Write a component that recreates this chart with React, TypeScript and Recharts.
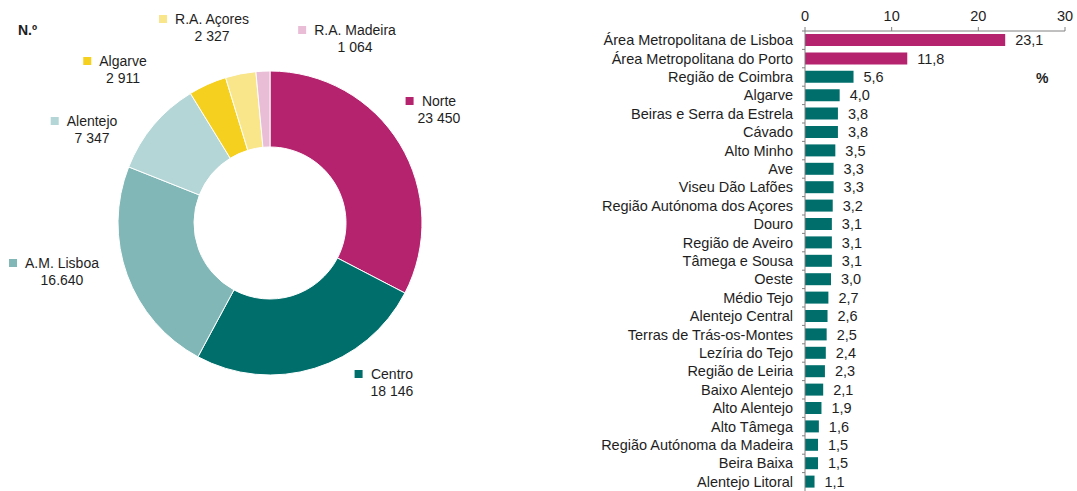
import { PieChart, Pie, Cell, BarChart, Bar, XAxis, YAxis, LabelList } from "recharts";

const regions = ["Norte", "Centro", "A.M. Lisboa", "Alentejo", "Algarve", "R.A. Açores", "R.A. Madeira"];
const regionValues = [23450, 18146, 16640, 7347, 2911, 2327, 1064];
const regionLabels = ["23 450", "18 146", "16.640", "7 347", "2 911", "2 327", "1 064"];
const regionColors = ["#b5236e", "#006f6c", "#81b7b7", "#b4d6d6", "#f5d01e", "#f9e58a", "#e9bdd5"];

const subregions = [
  "Área Metropolitana de Lisboa",
  "Área Metropolitana do Porto",
  "Região de Coimbra",
  "Algarve",
  "Beiras e Serra da Estrela",
  "Cávado",
  "Alto Minho",
  "Ave",
  "Viseu Dão Lafões",
  "Região Autónoma dos Açores",
  "Douro",
  "Região de Aveiro",
  "Tâmega e Sousa",
  "Oeste",
  "Médio Tejo",
  "Alentejo Central",
  "Terras de Trás-os-Montes",
  "Lezíria do Tejo",
  "Região de Leiria",
  "Baixo Alentejo",
  "Alto Alentejo",
  "Alto Tâmega",
  "Região Autónoma da Madeira",
  "Beira Baixa",
  "Alentejo Litoral",
];
const subregionShares = [23.1, 11.8, 5.6, 4.0, 3.8, 3.8, 3.5, 3.3, 3.3, 3.2, 3.1, 3.1, 3.1, 3.0, 2.7, 2.6, 2.5, 2.4, 2.3, 2.1, 1.9, 1.6, 1.5, 1.5, 1.1];
const highlighted = ["Área Metropolitana de Lisboa", "Área Metropolitana do Porto"];
const xTicks = [0, 10, 20, 30];

// centre of the name line for each donut label
const labelPos = [
  { x: 439, y: 101 },
  { x: 392, y: 374 },
  { x: 62, y: 263 },
  { x: 92, y: 121 },
  { x: 123, y: 61 },
  { x: 212, y: 19 },
  { x: 355, y: 30 },
];

const FONT = "'Liberation Sans', Arial, sans-serif";
const TEXT = "#1e1e1e";
const AXIS = "#808080";

const pieData = regions.map((name, i) => ({ name, value: regionValues[i] }));
const barData = subregions.map((name, i) => ({ name, value: subregionShares[i] }));

const fmt = (v: number) => v.toFixed(1).replace(".", ",");

function YTick(props: any) {
  const { x, y, payload } = props;
  const half = payload && payload.offset ? payload.offset : 9.2;
  const ax = x + 12;
  return (
    <g>
      <line x1={ax - 3} x2={ax} y1={y - half} y2={y - half} stroke={AXIS} />
      <text x={x} y={y} dy={5} textAnchor="end" fill={TEXT} fontSize={14.5} fontFamily={FONT}>
        {payload.value}
      </text>
    </g>
  );
}

export default function App() {
  return (
    <div style={{ position: "absolute", left: 0, top: 0, width: 1077, height: 491, overflow: "hidden", background: "#fff", fontFamily: FONT, color: TEXT }}>
      <style>{`body{margin:0;overflow:hidden}`}</style>

      <div style={{ position: "absolute", left: 0, top: 0 }}>
        <PieChart width={440} height={491} margin={{ top: 0, right: 0, bottom: 0, left: 0 }}>
          <Pie
            data={pieData}
            dataKey="value"
            cx={270}
            cy={223}
            innerRadius={76}
            outerRadius={152}
            startAngle={90}
            endAngle={-270}
            stroke="#fff"
            strokeWidth={1}
            isAnimationActive={false}
          >
            {pieData.map((d, i) => (
              <Cell key={d.name} fill={regionColors[i]} />
            ))}
          </Pie>
        </PieChart>
      </div>

      <div style={{ position: "absolute", left: 18, top: 22, fontSize: 14, fontWeight: "bold", lineHeight: "16px" }}>N.º</div>

      {regions.map((name, i) => (
        <div
          key={name}
          style={{
            position: "absolute",
            left: labelPos[i].x,
            top: labelPos[i].y - 8,
            transform: "translateX(-50%)",
            textAlign: "center",
            fontSize: 14,
            lineHeight: "16.5px",
            whiteSpace: "nowrap",
          }}
        >
          <span style={{ position: "relative" }}>
            <span style={{ position: "absolute", left: -16, top: 4, width: 8, height: 8, background: regionColors[i] }} />
            {name}
          </span>
          <br />
          {regionLabels[i]}
        </div>
      ))}

      <div style={{ position: "absolute", left: 600, top: 0 }}>
        <BarChart width={477} height={491} data={barData} layout="vertical" margin={{ top: 1, right: 12, bottom: 0, left: 0 }}>
          <XAxis
            type="number"
            orientation="top"
            domain={[0, 30]}
            ticks={xTicks}
            height={30}
            tickSize={4}
            tickMargin={6}
            stroke={AXIS}
            tick={{ fill: TEXT, fontSize: 14.5, fontFamily: FONT }}
          />
          <YAxis
            type="category"
            dataKey="name"
            width={205}
            tickSize={3}
            tickMargin={9}
            tickLine={false}
            stroke={AXIS}
            interval={0}
            tick={<YTick />}
          />
          <Bar dataKey="value" barSize={12} isAnimationActive={false}>
            {barData.map((d) => (
              <Cell key={d.name} fill={highlighted.includes(d.name) ? "#b5236e" : "#006f6c"} />
            ))}
            <LabelList dataKey="value" position="right" offset={10} formatter={(v: any) => fmt(Number(v))} fill={TEXT} fontSize={14.5} fontFamily={FONT} />
          </Bar>
        </BarChart>
      </div>

      <div style={{ position: "absolute", left: 1036, top: 70, fontSize: 14, fontWeight: "bold", lineHeight: "16px" }}>%</div>
    </div>
  );
}
